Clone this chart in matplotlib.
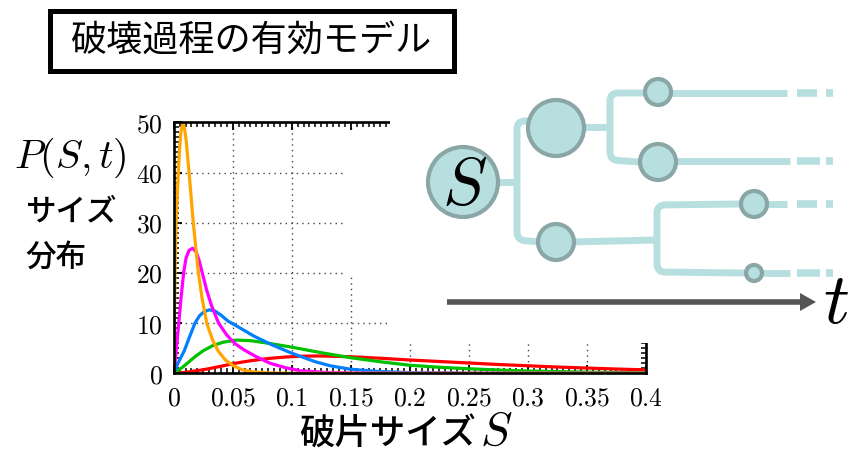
import matplotlib
matplotlib.use("Agg")
import matplotlib.pyplot as plt
import numpy as np
from matplotlib.patches import Circle, Rectangle, Polygon, PathPatch
from matplotlib.path import Path
from matplotlib.ticker import MultipleLocator, FixedLocator

plt.rcParams['mathtext.fontset'] = 'cm'
jp = ['Noto Sans CJK JP', 'DejaVu Sans']

# values (S, P)
orange_S = [0, 0.0005, 0.0011, 0.002, 0.0039, 0.0048, 0.006, 0.0076, 0.009, 0.0105, 0.013, 0.0148,
            0.0166, 0.0187, 0.0209, 0.024, 0.028, 0.033, 0.0378, 0.044, 0.0505, 0.058, 0.067, 0.08, 0.1, 0.4]
orange_P = [0, 8, 20, 30, 40, 44, 48, 49.6, 49, 46.5, 40, 35,
            30, 25, 20, 15, 10, 6.6, 4.4, 2.6, 1.5, 0.7, 0.3, 0.08, 0.0, 0.0]

magenta_S = [0, 0.0015, 0.0043, 0.0062, 0.0084, 0.0105, 0.013, 0.016, 0.019, 0.0215, 0.0242, 0.028,
             0.032, 0.038, 0.045, 0.052, 0.06, 0.07, 0.0816, 0.095, 0.107, 0.13, 0.16, 0.2, 0.4]
magenta_P = [0, 3, 10, 15, 20, 23, 24.5, 24.9, 24.2, 22.5, 20, 16.5,
             13.5, 10, 7.6, 5.9, 4.6, 3.3, 2.0, 1.1, 0.5, 0.15, 0.03, 0.0, 0.0]

blue_S = [0, 0.004, 0.009, 0.013, 0.018, 0.022, 0.026, 0.0302, 0.035, 0.04, 0.046, 0.052, 0.06, 0.068,
          0.075, 0.083, 0.09, 0.098, 0.107, 0.12, 0.1325, 0.15, 0.175, 0.2, 0.25, 0.3, 0.4]
blue_P = [0, 2.2, 4.5, 7, 10, 11.5, 12.3, 12.65, 12.4, 11.6, 10.4, 9.6, 8.5, 7.4,
          6.6, 5.7, 5.0, 4.2, 3.4, 2.3, 1.5, 0.8, 0.35, 0.13, 0.02, 0.0, 0.0]

green_S = [0, 0.008, 0.018, 0.025, 0.033, 0.042, 0.0534, 0.065, 0.077, 0.09, 0.1, 0.107, 0.125,
           0.15, 0.175, 0.2, 0.225, 0.25, 0.275, 0.3, 0.35, 0.4]
green_P = [0, 1.3, 3.3, 4.5, 5.5, 6.2, 6.62, 6.5, 6.1, 5.6, 5.2, 4.9, 4.1,
           3.1, 2.3, 1.6, 1.2, 0.9, 0.65, 0.45, 0.22, 0.1]

red_S = [0, 0.01, 0.025, 0.04, 0.052, 0.065, 0.08, 0.095, 0.11, 0.125, 0.15, 0.175, 0.2,
         0.225, 0.25, 0.275, 0.3, 0.325, 0.35, 0.375, 0.4]
red_P = [0, 0.2, 0.7, 1.4, 2.0, 2.5, 2.95, 3.25, 3.42, 3.45, 3.3, 3.0, 2.65,
         2.35, 2.05, 1.75, 1.5, 1.25, 1.05, 0.85, 0.68]

xticks = [0, 0.05, 0.1, 0.15, 0.2, 0.25, 0.3, 0.35, 0.4]
xtick_labels = ['0', '0.05', '0.1', '0.15', '0.2', '0.25', '0.3', '0.35', '0.4']
yticks = [0, 10, 20, 30, 40, 50]

W, H = 849, 455
fig = plt.figure(figsize=(W / 100, H / 100), dpi=100)

ax = fig.add_axes([173.7 / W, 81.7 / H, 472.3 / W, 251 / H])
ax.plot(red_S, red_P, color='#ff0000', lw=2.3)
ax.plot(green_S, green_P, color='#00c000', lw=2.3)
ax.plot(blue_S, blue_P, color='#0080ff', lw=2.3)
ax.plot(magenta_S, magenta_P, color='#ff00ff', lw=2.3)
ax.plot(orange_S, orange_P, color='#ffa500', lw=2.3)
ax.set_xlim(0, 0.4)
ax.set_ylim(0, 50)
ax.xaxis.set_major_locator(FixedLocator(xticks))
ax.set_xticklabels(['$' + s + '$' for s in xtick_labels])
ax.yaxis.set_major_locator(FixedLocator(yticks))
ax.set_yticklabels(['$%d$' % v for v in yticks])
ax.xaxis.set_minor_locator(MultipleLocator(0.005))
ax.yaxis.set_minor_locator(MultipleLocator(1))
ax.tick_params(which='both', direction='in', top=True, right=True, labelsize=18.5)
ax.tick_params(which='major', length=6, width=1.3)
ax.tick_params(which='minor', length=3.5, width=1.1)
ax.tick_params(axis='x', pad=9)
ax.tick_params(axis='y', pad=8)
ax.grid(True, color='#444444', linestyle=(0, (1, 3)), lw=1)
for sp in ax.spines.values():
    sp.set_linewidth(1.9)

# overlay in pixel units for the diagram and labels
ov = fig.add_axes([0, 0, 1, 1], zorder=5)
ov.set_xlim(0, W)
ov.set_ylim(H, 0)
ov.axis('off')
ov.patch.set_alpha(0)

# white background of the pasted diagram hides part of the plot
ov.add_patch(Rectangle((345, 130), 520, 147, color='white', lw=0))
ov.add_patch(Rectangle((390, 0), 470, 343, color='white', lw=0))

ov.add_patch(Rectangle((50.5, 10.5), 404, 60, fill=False, ec='black', lw=3.6))
ov.text(252, 41, '破壊過程の有効モデル', family=jp, fontsize=26, ha='center', va='center')

ov.text(70, 158, '$P(S,t)$', fontsize=29, ha='center', va='center')
ov.text(25, 212, 'サイズ', family=jp, fontsize=22, fontweight='medium', ha='left', va='center')
ov.text(25, 257, '分布', family=jp, fontsize=22, fontweight='medium', ha='left', va='center')
ov.text(388, 435, '破片サイズ', family=jp, fontsize=25.5, fontweight='medium', ha='center', va='center')
ov.text(480, 445, '$S$', fontsize=34, ha='left', va='baseline')

line_c = '#b8dfe0'
edge_c = '#8aa6a6'


def rounded(points, r=8):
    verts = [points[0]]
    codes = [Path.MOVETO]
    for i in range(1, len(points) - 1):
        p0, p1, p2 = np.array(points[i - 1], float), np.array(points[i], float), np.array(points[i + 1], float)
        d1 = (p0 - p1) / np.linalg.norm(p0 - p1)
        d2 = (p2 - p1) / np.linalg.norm(p2 - p1)
        verts += [tuple(p1 + d1 * r), tuple(p1), tuple(p1 + d2 * r)]
        codes += [Path.LINETO, Path.CURVE3, Path.CURVE3]
    verts.append(points[-1])
    codes.append(Path.LINETO)
    return Path(verts, codes)


branches = [
    [(495, 182), (517, 182)],
    [(517, 182), (517, 121), (540, 121)],
    [(517, 182), (517, 240), (540, 242)],
    [(580, 127), (610, 127)],
    [(610, 127), (610, 93), (645, 93)],
    [(610, 127), (610, 160), (640, 162)],
    [(670, 93), (787, 93)],
    [(675, 161), (790, 161)],
    [(570, 242), (657, 240)],
    [(657, 240), (657, 205), (740, 204)],
    [(657, 240), (657, 272), (745, 273)],
    [(765, 204), (787, 204)],
    [(760, 273), (790, 273)],
]
for b in branches:
    ov.add_patch(PathPatch(rounded(b), fill=False, ec=line_c, lw=5, capstyle='butt', joinstyle='round'))

for y, ends in [(93, 817), (161, 820), (204, 817), (273, 820)]:
    ov.plot([797, ends], [y, y], color=line_c, lw=5.5, solid_capstyle='butt')
    ov.plot([826, 833], [y, y], color=line_c, lw=5.5, solid_capstyle='butt')

nodes = [(463, 182, 35), (556, 128, 28), (658, 92, 13), (658, 162, 18),
         (556, 242, 18), (754, 204, 13), (754, 273, 8)]
for cx, cy, r in nodes:
    ov.add_patch(Circle((cx, cy), r, fc=line_c, ec=edge_c, lw=3))

ov.text(465, 186, '$S$', fontsize=48, ha='center', va='center')

ov.plot([447, 802], [302, 302], color='#555555', lw=4, solid_capstyle='butt')
ov.add_patch(Polygon([(800, 293), (816, 302), (800, 311)], closed=True, color='#555555', lw=0))
ov.text(836, 304, '$t$', fontsize=52, ha='center', va='center')

fig.savefig('out.png', dpi=100)
